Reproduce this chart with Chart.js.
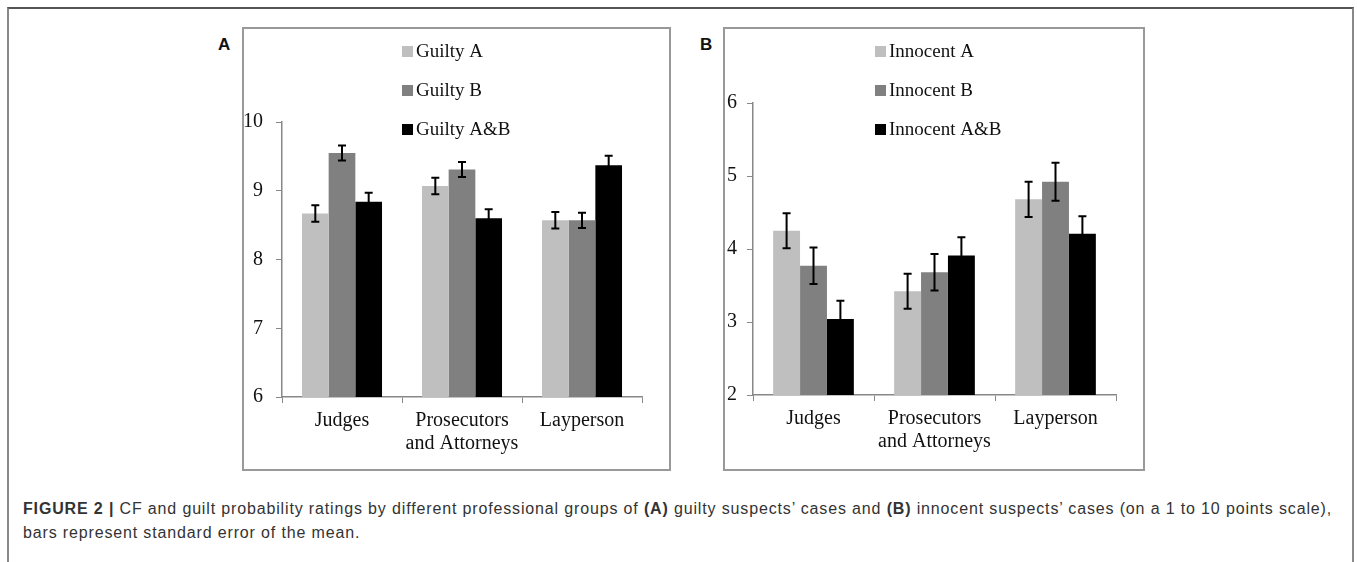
<!DOCTYPE html>
<html lang="en">
<head>
<meta charset="UTF-8">
<title>Figure 2</title>
<script src="https://cdn.jsdelivr.net/npm/chart.js"></script>
<style>
    body { margin: 0; background: #fff; width: 1357px; height: 562px; position: relative; overflow: hidden; }
    #frame { position: absolute; left: 7px; top: 7px; width: 1347px; height: 600px; border-top: 2px solid #555; border-left: 2px solid #888; border-right: 2px solid #888; box-sizing: border-box; }
    .panel { position: absolute; border: 2px solid #999; box-sizing: border-box; pointer-events: none; }
    .tag { position: absolute; font: bold 17px "Liberation Sans", Arial, sans-serif; color: #111; }
    canvas { position: absolute; }
    #caption { position: absolute; left: 23px; top: 497px; font: 16px "Liberation Sans", Arial, sans-serif; letter-spacing: 0.85px; color: #333; line-height: 24px; white-space: nowrap; }
</style>
</head>
<body>
<div id="frame"></div>
<div class="panel" style="left:242px;top:27px;width:429px;height:444px;"></div>
<div class="panel" style="left:723px;top:27px;width:422px;height:444px;"></div>
<div class="tag" style="left:218px;top:35px;">A</div>
<div class="tag" style="left:700px;top:35px;">B</div>
<div style="position:absolute;left:243px;top:28px;width:426px;height:441px;"><canvas id="chartA"></canvas></div>
<div style="position:absolute;left:724px;top:28px;width:419px;height:441px;"><canvas id="chartB"></canvas></div>
<div id="caption"><b>FIGURE 2 |</b> CF and guilt probability ratings by different professional groups of <b>(A)</b> guilty suspects’ cases and <b>(B)</b> innocent suspects’ cases (on a 1 to 10 points scale),<br>bars represent standard error of the mean.</div>
<script>
// categories
const groups = ['Judges', ['Prosecutors', 'and Attorneys'], 'Layperson'];

// panel A: guilty suspects' cases
const guiltyLabels = ['Guilty A', 'Guilty B', 'Guilty A&B'];
const guiltyA = [8.67, 9.07, 8.57];
const guiltyB = [9.55, 9.31, 8.57];
const guiltyAB = [8.84, 8.60, 9.37];
const guiltyErrA = [0.12, 0.12, 0.12];
const guiltyErrB = [0.11, 0.11, 0.11];
const guiltyErrAB = [0.13, 0.13, 0.14];
const guiltyTicks = [6, 7, 8, 9, 10];

// panel B: innocent suspects' cases
const innocentLabels = ['Innocent A', 'Innocent B', 'Innocent A&B'];
const innocentA = [4.25, 3.42, 4.68];
const innocentB = [3.77, 3.68, 4.92];
const innocentAB = [3.04, 3.91, 4.21];
const innocentErrA = [0.24, 0.24, 0.24];
const innocentErrB = [0.25, 0.25, 0.26];
const innocentErrAB = [0.25, 0.25, 0.24];
const innocentTicks = [2, 3, 4, 5, 6];

const barColors = ['#bfbfbf', '#808080', '#000000'];
const serif = '"Liberation Serif", "Times New Roman", serif';

// error bars drawn from the bar elements and the y scale
const errorBars = {
    id: 'errorBars',
    afterDatasetsDraw(chart) {
        const ctx = chart.ctx;
        const y = chart.scales.y;
        ctx.save();
        ctx.strokeStyle = '#000';
        ctx.lineWidth = 2;
        chart.data.datasets.forEach((ds, i) => {
            chart.getDatasetMeta(i).data.forEach((bar, j) => {
                const v = ds.data[j], e = ds.err[j];
                const top = y.getPixelForValue(v + e), bot = y.getPixelForValue(v - e);
                ctx.beginPath();
                ctx.moveTo(bar.x, top); ctx.lineTo(bar.x, bot);
                ctx.moveTo(bar.x - 4, top); ctx.lineTo(bar.x + 4, top);
                ctx.moveTo(bar.x - 4, bot); ctx.lineTo(bar.x + 4, bot);
                ctx.stroke();
            });
        });
        ctx.restore();
    }
};

// stacked legend sitting inside the plot
const boxLegend = {
    id: 'boxLegend',
    afterDraw(chart, args, opts) {
        const ctx = chart.ctx;
        ctx.save();
        ctx.font = '19px ' + serif;
        ctx.textBaseline = 'middle';
        chart.data.datasets.forEach((ds, i) => {
            const cy = opts.y + i * 39;
            ctx.fillStyle = ds.backgroundColor;
            ctx.fillRect(opts.x, cy - 5, 11, 11);
            ctx.fillStyle = '#111';
            ctx.fillText(ds.label, opts.x + 14, cy + 1);
        });
        ctx.restore();
    }
};

function makeChart(id, labels, series, errs, ticks, lay) {
    new Chart(document.getElementById(id), {
        type: 'bar',
        data: {
            labels: groups,
            datasets: series.map((d, i) => ({
                label: labels[i],
                data: d,
                err: errs[i],
                backgroundColor: barColors[i],
                borderWidth: 0,
                categoryPercentage: 0.667,
                barPercentage: 1.0
            }))
        },
        options: {
            responsive: true,
            maintainAspectRatio: false,
            animation: false,
            layout: { padding: { top: lay.top, right: lay.right, left: 0, bottom: 0 } },
            plugins: {
                legend: { display: false },
                tooltip: { enabled: false },
                boxLegend: { x: lay.legX, y: 23 }
            },
            scales: {
                x: {
                    afterFit: s => { s.height = lay.bottom; },
                    grid: { drawOnChartArea: false, tickLength: 6, color: '#888', offset: true },
                    border: { color: '#888', width: 1.5 },
                    ticks: { color: '#111', padding: 6, font: { family: serif, size: 20, lineHeight: 1.15 }, maxRotation: 0 }
                },
                y: {
                    min: ticks[0],
                    max: ticks[ticks.length - 1],
                    afterFit: s => { s.width = lay.left; },
                    afterBuildTicks: s => { s.ticks = ticks.map(v => ({ value: v })); },
                    grid: { drawOnChartArea: false, tickLength: 6, color: '#888' },
                    border: { color: '#888', width: 1.5 },
                    ticks: { color: '#111', padding: lay.tickPad, font: { family: serif, size: 20 } }
                }
            }
        },
        plugins: [errorBars, boxLegend]
    });
}

makeChart('chartA', guiltyLabels, [guiltyA, guiltyB, guiltyAB], [guiltyErrA, guiltyErrB, guiltyErrAB], guiltyTicks,
    { top: 94, right: 27, bottom: 72, left: 39, legX: 159, tickPad: 13 });
makeChart('chartB', innocentLabels, [innocentA, innocentB, innocentAB], [innocentErrA, innocentErrB, innocentErrAB], innocentTicks,
    { top: 75, right: 27, bottom: 74, left: 29, legX: 151, tickPad: 10 });
</script>
</body>
</html>
